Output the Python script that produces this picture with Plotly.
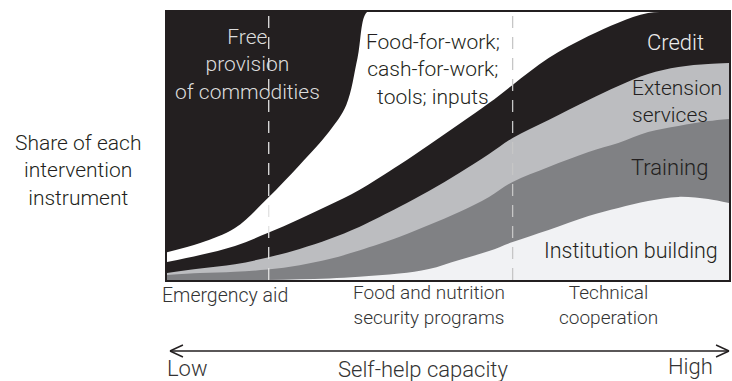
import plotly.graph_objects as go

# share of each intervention instrument (% of total) along self-help capacity (0 = low, 100 = high)
capacity = [0, 5.9, 12.1, 17.9, 23.6, 28.9, 34.2, 41.3, 46.6, 52.0, 57.3, 61.5, 67.9, 75.0, 80.3, 85.6, 91.0, 96.3, 100]

# upper edge of each band
institution_top = [0, 0, 0, 0, 0.3, 0.6, 1.2, 2.4, 4.1, 7.5, 10.8, 14.2, 18.7, 23.9, 26.9, 29.5, 31.0, 30.2, 28.7]
training_top = [1.9, 2.6, 3.1, 3.9, 5.5, 7.8, 11.0, 16.0, 20.5, 25.4, 31.0, 36.6, 42.2, 47.8, 51.1, 55.2, 57.5, 59.3, 60.1]
extension_top = [2.6, 4.3, 5.9, 8.4, 11.6, 15.3, 19.8, 27.2, 33.2, 39.9, 47.0, 53.0, 59.7, 67.2, 72.4, 76.9, 79.5, 80.6, 81.0]
credit_top = [6.7, 9.3, 12.7, 17.5, 22.8, 28.0, 33.6, 42.9, 50.4, 58.2, 66.0, 72.8, 82.8, 91.0, 96.0, 99.6, 100, 100, 100]

# food-for-work etc. reaches up to this edge, free provision takes the rest
free_x = [0, 5.9, 12.1, 17.9, 23.6, 28.9, 31.9, 33.9, 35.6, 38, 100]
food_top = [10.4, 13.8, 19.4, 30.5, 42.9, 55.5, 65.3, 82.8, 100, 100, 100]
total_x = [0, 100]
total_top = [100, 100]

# phase boundaries (dashed lines)
phase_breaks = [18.1, 61.5]

fig = go.Figure()

def band(x, y, color):
    fig.add_trace(go.Scatter(x=x, y=y, mode='lines', fill='tozeroy', fillcolor=color,
                             line=dict(width=0, shape='spline'), hoverinfo='skip', showlegend=False))

band(total_x, total_top, '#231f20')       # free provision of commodities
band(free_x, food_top, '#ffffff')         # food-for-work; cash-for-work; tools; inputs
band(capacity, credit_top, '#231f20')     # credit
band(capacity, extension_top, '#bcbdc0')  # extension services
band(capacity, training_top, '#808184')   # training
band(capacity, institution_top, '#f1f2f4')  # institution building

# helpers to place decorations by pixel position
def px(xp):
    return (xp - 167) / 564

def py(yp):
    return (280 - yp) / 268

FONT = 'Roboto, Liberation Sans, Arial, sans-serif'
annotations = []

def lab(text, x, y, size=21, color='#231f20', anchor='center'):
    annotations.append(dict(text=text, x=px(x), y=py(y), xref='paper', yref='paper',
                            showarrow=False, xanchor=anchor, yanchor='middle', align=anchor,
                            font=dict(family=FONT, size=size, color=color, weight=300)))

lab('Free<br>provision<br>of commodities', 247.5, 65, color='#dcdcdc')
lab('Food-for-work;<br>cash-for-work;<br>tools; inputs', 433.5, 70)
lab('Credit', 677, 43, size=22, color='#ececec')
lab('Extension<br>services', 632, 101.5, anchor='left')
lab('Training', 671, 167, size=22)
lab('Institution building', 633, 250, size=21.5)

lab('Share of each<br>intervention<br>instrument', 78, 170)

lab('Emergency aid', 225, 295, size=19.5, color='#333333')
lab('Food and nutrition<br>security programs', 430, 305, size=19, color='#333333')
lab('Technical<br>cooperation', 610.5, 305, size=19, color='#333333')

lab('Low', 165, 368, size=22, anchor='left', color='#333333')
lab('Self-help capacity', 424, 369, size=22, color='#333333')
lab('High', 717, 366, size=22, anchor='right', color='#333333')

shapes = []
for xb, col in zip(phase_breaks, ['#e2e2e2', '#c6c6c6']):
    shapes.append(dict(type='line', xref='x', yref='y', x0=xb, x1=xb, y0=0, y1=100,
                       line=dict(color=col, width=1.3, dash='12px,9px'), layer='above'))

# double-headed arrow for self-help capacity
arrow = dict(color='#231f20', width=1.4)
shapes.append(dict(type='line', xref='paper', yref='paper', x0=px(170), x1=px(731),
                   y0=py(351), y1=py(351), line=arrow))
for tip, back in [(170, 183), (731, 718)]:
    for dy in (-6, 6):
        shapes.append(dict(type='line', xref='paper', yref='paper', x0=px(tip), x1=px(back),
                           y0=py(351), y1=py(351 + dy), line=arrow))

axis = dict(range=[0, 100], showgrid=False, zeroline=False, showticklabels=False, ticks='',
            showline=True, mirror=True, linecolor='#231f20', linewidth=1.5, fixedrange=True)

fig.update_layout(width=732, height=381, margin=dict(l=167, r=1, t=12, b=101),
                  paper_bgcolor='white', plot_bgcolor='white',
                  xaxis=axis, yaxis=axis, annotations=annotations, shapes=shapes,
                  font=dict(family=FONT))

# the page's default body margin would push the figure out of the window
fig.write_html('out.html', config={'displayModeBar': False},
               post_script="document.body.style.margin='0';document.body.style.overflow='hidden';")
